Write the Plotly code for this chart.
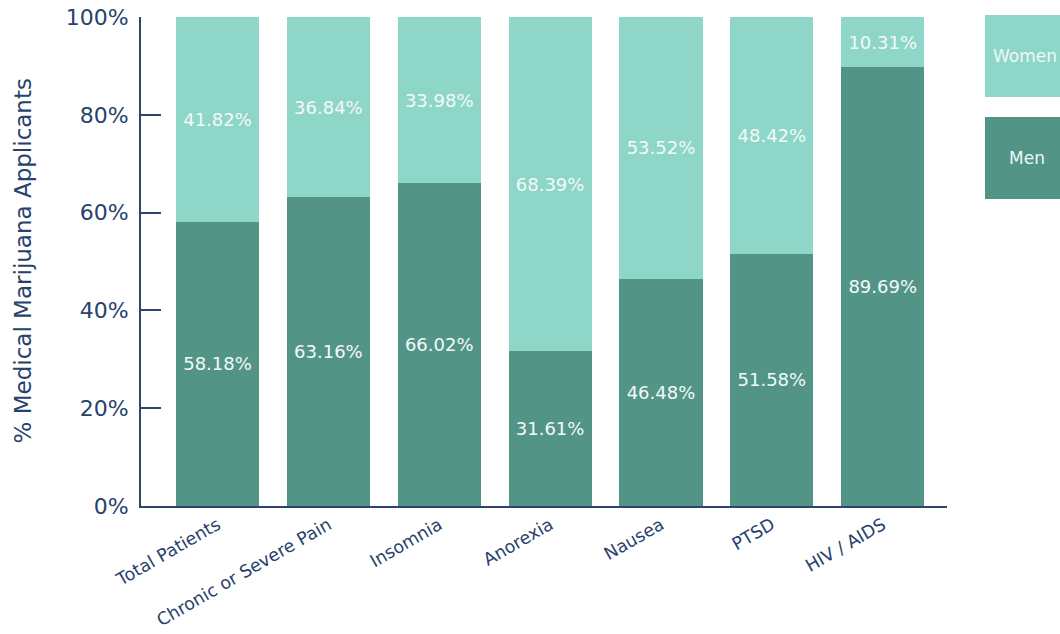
import plotly.graph_objects as go

# Share of medical marijuana applicants by qualifying condition, split by sex
conditions = ["Total Patients", "Chronic or Severe Pain", "Insomnia", "Anorexia",
              "Nausea", "PTSD", "HIV / AIDS"]
men_pct = [58.18, 63.16, 66.02, 31.61, 46.48, 51.58, 89.69]
women_pct = [41.82, 36.84, 33.98, 68.39, 53.52, 48.42, 10.31]
y_ticks = [0, 20, 40, 60, 80, 100]
y_tick_labels = ["0%", "20%", "40%", "60%", "80%", "100%"]

MEN_COLOR = "#529587"
WOMEN_COLOR = "#8ed6c7"
NAVY = "#27426c"
FONT = "'DejaVu Sans', sans-serif"

fig = go.Figure()
for name, vals, color in [("Men", men_pct, MEN_COLOR), ("Women", women_pct, WOMEN_COLOR)]:
    fig.add_trace(go.Bar(
        x=conditions, y=vals, name=name,
        marker=dict(color=color, line=dict(width=0)),
        width=0.75,
        texttemplate="%{y:.2f}%",
        textposition="inside",
        insidetextanchor="middle",
        constraintext="none",
        textfont=dict(family=FONT, size=18, color="#f2faf8"),
        showlegend=False,
    ))

# Legend boxes at the right edge
L, R, T, B = 141, 1060 - 947, 17, 634 - 506
W, H = 1060 - L - R, 634 - T - B


def px_x(p):
    return (p - L) / W


def px_y(p):
    return (634 - B - p) / H


legend_items = [("Women", WOMEN_COLOR, 15, 97, 991), ("Men", MEN_COLOR, 117, 199, 1007)]
for label, color, top, bottom, tx in legend_items:
    fig.add_shape(type="rect", xref="paper", yref="paper",
                  x0=px_x(985), x1=px_x(1075), y0=px_y(bottom), y1=px_y(top),
                  fillcolor=color, line=dict(width=0), layer="above")
    fig.add_annotation(xref="paper", yref="paper", x=px_x(tx), y=px_y((top + bottom) / 2),
                       text=label, showarrow=False, xanchor="left", yanchor="middle",
                       font=dict(family=FONT, size=17, color="#eef8f5"))

fig.add_annotation(xref="paper", yref="paper", x=px_x(22), y=0.5,
                   text="% Medical Marijuana Applicants", textangle=-90,
                   showarrow=False, xanchor="center", yanchor="middle",
                   font=dict(family=FONT, size=23, color=NAVY))

fig.update_layout(
    barmode="stack",
    width=1060, height=634,
    margin=dict(l=L, r=R, t=T, b=B, autoexpand=False),
    paper_bgcolor="white", plot_bgcolor="white",
    font=dict(family=FONT, color=NAVY),
    xaxis=dict(
        range=[-0.69, 6.58],
        showline=True, linecolor="#2e4468", linewidth=2,
        ticks="", tickangle=-30,
        tickfont=dict(family=FONT, size=17.5, color=NAVY),
        showgrid=False, zeroline=False,
    ),
    yaxis=dict(
        range=[0, 100],
        tickvals=y_ticks, ticktext=y_tick_labels,
        showline=True, linecolor="#2e4468", linewidth=2,
        ticks="inside", ticklen=20, tickwidth=1.5, tickcolor="#2e4468",
        tickfont=dict(family=FONT, size=22, color=NAVY),
        ticklabelstandoff=6,
        showgrid=False, zeroline=False,
    ),
)

fig.write_html("out.html")
